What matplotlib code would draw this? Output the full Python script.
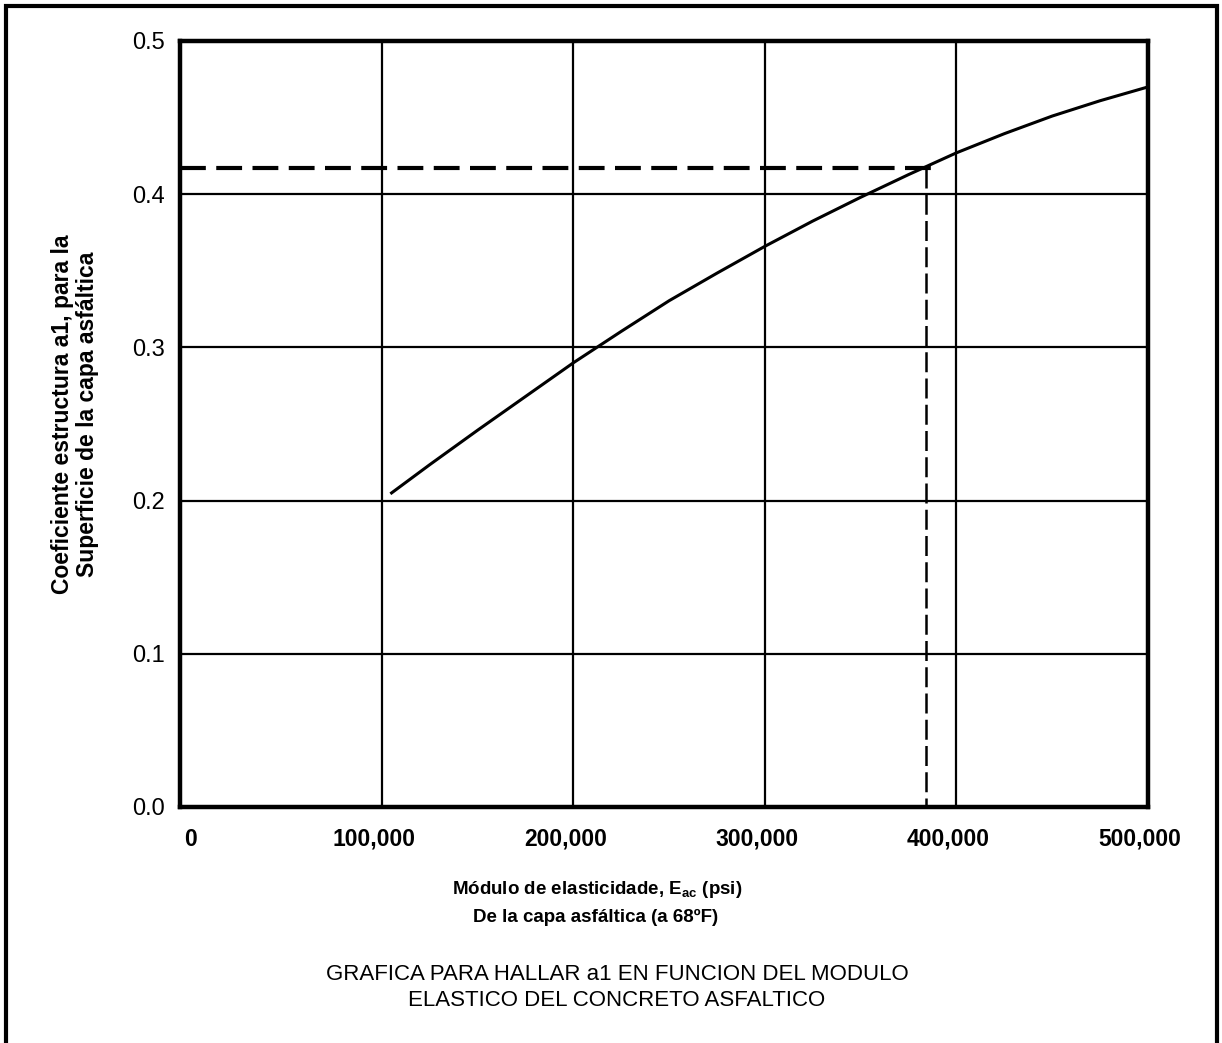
import matplotlib
matplotlib.use("Agg")
from matplotlib import pyplot as plt
from matplotlib.patches import Rectangle
from matplotlib.transforms import ScaledTranslation

plt.rcParams['font.family'] = ['Liberation Sans', 'DejaVu Sans']

# curve: modulus (psi) vs a1
modulo = [105000, 125000, 150000, 175000, 200000, 225000, 250000, 275000, 300000,
          325000, 350000, 375000, 400000, 425000, 450000, 475000, 500000]
a1 = [0.205, 0.2235, 0.246, 0.268, 0.290, 0.3105, 0.3305, 0.3485, 0.366,
      0.3825, 0.398, 0.4128, 0.427, 0.4395, 0.451, 0.461, 0.470]

# example reading
ejemplo_x = 384000
ejemplo_y = 0.417

xticks = [0, 100000, 200000, 300000, 400000, 500000]
xticklabels = ['0', '100,000', '200,000', '300,000', '400,000', '500,000']
yticks = [0.0, 0.1, 0.2, 0.3, 0.4, 0.5]

fig = plt.figure(figsize=(12.22, 10.43), dpi=100)
ax = fig.add_axes([0.1473, 0.2263, 0.7921, 0.7344])

ax.set_xlim(-5500, 500000)
ax.set_ylim(0, 0.5)

for x in xticks[1:-1]:
    ax.axvline(x, color='black', lw=1.6, zorder=1)
for y in yticks[1:-1]:
    ax.axhline(y, color='black', lw=1.6, zorder=1)

ax.plot(modulo, a1, color='black', lw=2.2, zorder=3)

ax.plot([-5500, ejemplo_x + 4500], [ejemplo_y, ejemplo_y], color='black', lw=3.0,
        dashes=(6.2, 2.5), zorder=2)
ax.plot([ejemplo_x, ejemplo_x], [ejemplo_y, 0], color='black', lw=1.8,
        dashes=(8, 2.5), zorder=2)

ax.set_xticks(xticks)
ax.set_xticklabels(xticklabels, fontsize=16.5, fontweight='bold')
ax.set_yticks(yticks)
ax.set_yticklabels(['%.1f' % y for y in yticks], fontsize=17)
ax.tick_params(length=0)
ax.tick_params(axis='y', pad=11)
ax.tick_params(axis='x', pad=15)

# tick labels sit a little left of their gridlines in the original
shift = ScaledTranslation(-8 / 100, 0, fig.dpi_scale_trans)
for lab in ax.get_xticklabels()[1:]:
    lab.set_transform(lab.get_transform() + shift)

for s in ax.spines.values():
    s.set_linewidth(3.2)

fig.text(0.0614, 0.603, 'Coeficiente estructura a1, para la\nSuperficie de la capa asfáltica',
         ha='center', va='center', rotation=90, fontsize=16.5, fontweight='bold',
         linespacing=1.15)

fig.text(0.489, 1 - 890 / 1043, r'Módulo de elasticidade, E$_{\mathregular{ac}}$ (psi)',
         ha='center', va='center', fontsize=13.5, fontweight='bold')
fig.text(0.487, 1 - 917 / 1043, 'De la capa asfáltica (a 68ºF)',
         ha='center', va='center', fontsize=13.5, fontweight='bold')
fig.text(0.505, 1 - 974 / 1043, 'GRAFICA PARA HALLAR a1 EN FUNCION DEL MODULO',
         ha='center', va='center', fontsize=16)
fig.text(0.505, 1 - 1001 / 1043, 'ELASTICO DEL CONCRETO ASFALTICO',
         ha='center', va='center', fontsize=16)

fig.patches.append(Rectangle((0.005, -0.02), 0.991, 1.014, transform=fig.transFigure,
                             fill=False, edgecolor='black', lw=3))

fig.savefig('out.png', dpi=100)
